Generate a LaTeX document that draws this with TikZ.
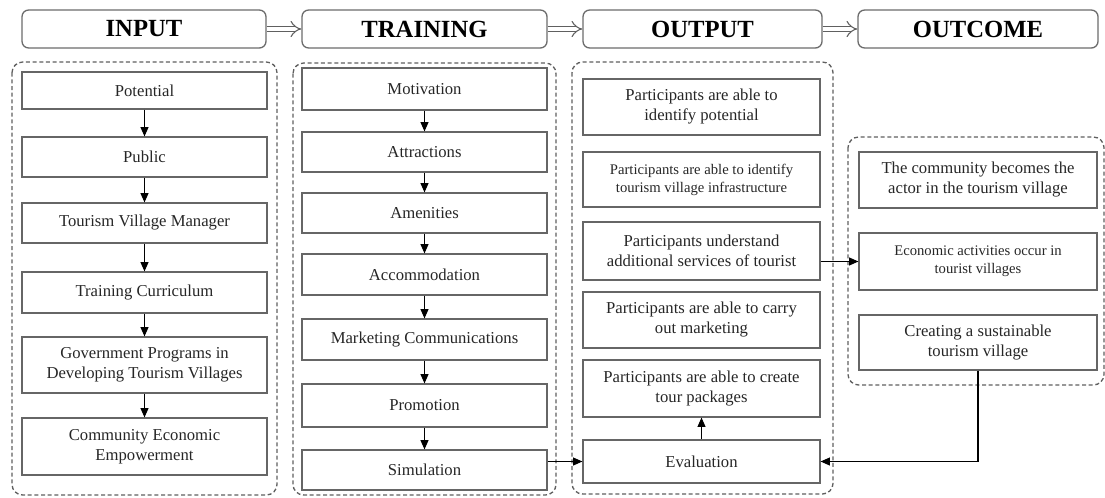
\documentclass[tikz,border=0pt]{standalone}
\usepackage{fontspec}
\setmainfont{Liberation Serif}
\usetikzlibrary{arrows.meta}

% box from corner (x1,y1) to (x2,y2), in pixel-like units
\newcommand\placebox[7][item]{%
  \pgfmathsetmacro\bxX{(#3+#5)/2}\pgfmathsetmacro\bxY{(#4+#6)/2}%
  \pgfmathsetmacro\bxW{(#5-#3)*0.75}\pgfmathsetmacro\bxH{(#6-#4)*0.75}%
  \node[#1, minimum width=\bxW pt, minimum height=\bxH pt] (#2) at (\bxX,\bxY) {#7};}

\begin{document}
\begin{tikzpicture}[x=0.75pt,y=-0.75pt,
  head/.style={draw=gray!85!black, line width=1pt, rounded corners=5pt, inner sep=0pt,
    font=\fontsize{18.5}{22}\selectfont\bfseries},
  item/.style={draw=gray!80!black, line width=0.9pt, align=center, inner sep=0pt,
    font=\fontsize{12.5}{15}\selectfont, text=black!85},
  small/.style={item, font=\fontsize{11}{13.5}\selectfont},
  group/.style={draw=gray!75!black, line width=1pt, dash pattern=on 3pt off 2pt, rounded corners=8pt},
  flow/.style={-{Triangle[length=7pt,width=6pt]}, line width=0.8pt, black},
  link/.style={draw=gray!75!black, line width=0.8pt, double=white, double distance=3.5pt, -{Implies}},
]
\useasboundingbox (0,0) rectangle (1105,497);

% stage headers
\placebox[head]{hin}{22}{10}{266}{48}{INPUT}
\placebox[head]{htr}{302}{10}{547}{48}{TRAINING}
\placebox[head]{hout}{583}{10}{822}{48}{OUTPUT}
\placebox[head]{hoc}{858}{10}{1098}{48}{OUTCOME}
\draw[link] (hin.east) -- (htr.west);
\draw[link] (htr.east) -- (hout.west);
\draw[link] (hout.east) -- (hoc.west);

% dashed stage containers
\draw[group] (12,62) rectangle (277,495);
\draw[group] (293,63) rectangle (556,495);
\draw[group] (572,62) rectangle (833,494);
\draw[group] (848,137) rectangle (1104,385);

% input
\placebox{i1}{22}{72}{267}{109}{Potential}
\placebox{i2}{22}{137}{267}{177}{Public}
\placebox{i3}{22}{203}{267}{243}{Tourism Village Manager}
\placebox{i4}{22}{272}{267}{313}{Training Curriculum}
\placebox{i5}{22}{337}{267}{393}{Government Programs in\\Developing Tourism Villages}
\placebox{i6}{22}{418}{267}{475}{Community Economic\\Empowerment}

% training
\placebox{t1}{302}{68}{547}{110}{Motivation}
\placebox{t2}{302}{132}{547}{172}{Attractions}
\placebox{t3}{302}{193}{547}{233}{Amenities}
\placebox{t4}{302}{254}{547}{295}{Accommodation}
\placebox{t5}{302}{319}{547}{360}{Marketing Communications}
\placebox{t6}{302}{384}{547}{427}{Promotion}
\placebox{t7}{302}{450}{547}{490}{Simulation}

% output
\placebox{o1}{583}{79}{820}{135}{Participants are able to\\identify potential}
\placebox[small]{o2}{583}{152}{820}{207}{Participants are able to identify\\tourism village infrastructure}
\placebox{o3}{583}{222}{820}{280}{Participants understand\\additional services of tourist}
\placebox{o4}{583}{292}{820}{348}{Participants are able to carry\\out marketing}
\placebox{o5}{583}{360}{820}{417}{Participants are able to create\\tour packages}
\placebox{ev}{583}{440}{820}{483}{Evaluation}

% outcome
\placebox{c1}{859}{152}{1097}{208}{The community becomes the\\actor in the tourism village}
\placebox[small]{c2}{859}{233}{1097}{290}{Economic activities occur in\\tourist villages}
\placebox{c3}{859}{315}{1097}{370}{Creating a sustainable\\tourism village}

% connectors
\foreach \a/\b in {i1/i2,i2/i3,i3/i4,i4/i5,i5/i6,t1/t2,t2/t3,t3/t4,t4/t5,t5/t6,t6/t7}
  \draw[flow] (\a.south) -- (\b.north);
\draw[flow] (t7.east |- ev.west) -- (ev.west);
\draw[flow] (ev.north) -- (o5.south);
\draw[flow] (o3.east |- c2.west) -- (c2.west);
\draw[flow] (c3.south) |- (ev.east);
\end{tikzpicture}
\end{document}
